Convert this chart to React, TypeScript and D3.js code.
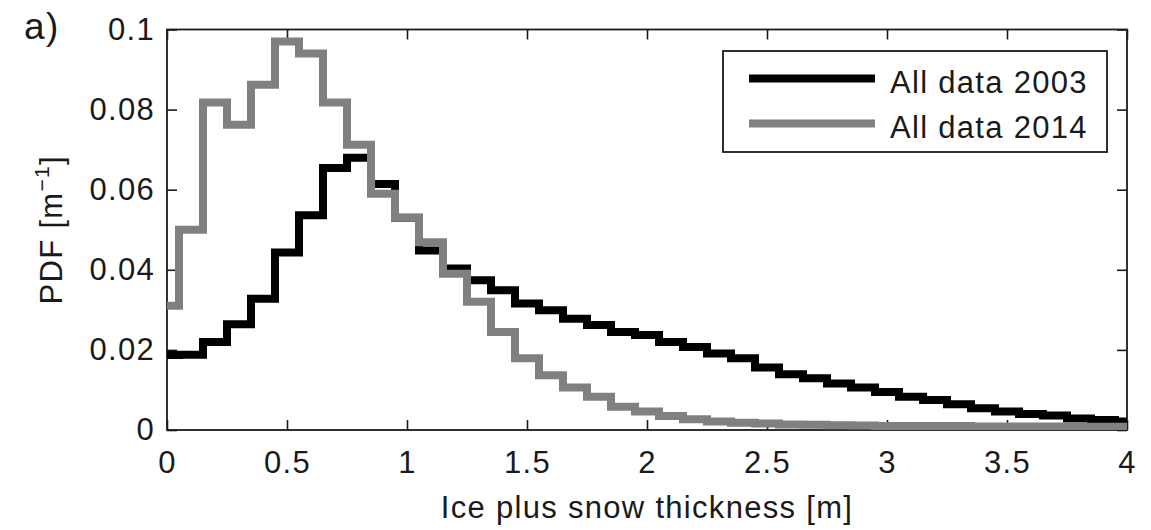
import { useEffect, useRef } from 'react';
import * as d3 from 'd3';

// bin centres of the thickness histogram [m]
const thickness = [
  0, 0.1, 0.2, 0.3, 0.4, 0.5, 0.6, 0.7, 0.8, 0.9,
  1.0, 1.1, 1.2, 1.3, 1.4, 1.5, 1.6, 1.7, 1.8, 1.9,
  2.0, 2.1, 2.2, 2.3, 2.4, 2.5, 2.6, 2.7, 2.8, 2.9,
  3.0, 3.1, 3.2, 3.3, 3.4, 3.5, 3.6, 3.7, 3.8, 3.9, 4.0,
];

const pdf2003 = [
  0.0187, 0.0188, 0.022, 0.0264, 0.0328, 0.0443, 0.0536, 0.0654, 0.068, 0.0614,
  0.053, 0.0448, 0.0403, 0.0374, 0.0349, 0.0316, 0.0299, 0.0278, 0.0262, 0.0245,
  0.0237, 0.022, 0.0207, 0.0191, 0.0179, 0.0156, 0.0139, 0.0129, 0.0116, 0.0106,
  0.0095, 0.0083, 0.0075, 0.0064, 0.0054, 0.0046, 0.004, 0.0036, 0.0029, 0.0025, 0.0021,
];

const pdf2014 = [
  0.031, 0.050, 0.0818, 0.0762, 0.0862, 0.097, 0.094, 0.0818, 0.0712, 0.059,
  0.053, 0.0469, 0.039, 0.032, 0.0245, 0.0179, 0.0137, 0.0106, 0.0083, 0.0058,
  0.0046, 0.0035, 0.0027, 0.0021, 0.0018, 0.0016, 0.0014, 0.0013, 0.0012, 0.0011,
  0.001, 0.001, 0.001, 0.001, 0.0009, 0.0009, 0.0009, 0.0009, 0.0008, 0.0008, 0.0008,
];

const seriesNames = ['All data 2003', 'All data 2014'];
const seriesColors = ['#000000', '#808080'];
const xTicks = [0, 0.5, 1, 1.5, 2, 2.5, 3, 3.5, 4];
const yTicks = [0, 0.02, 0.04, 0.06, 0.08, 0.1];

const W = 1151;
const H = 530;
const FONT = '"Liberation Sans", Arial, Helvetica, sans-serif';
const TEXT = '#1a1a1a';

const App = () => {
  const svgRef = useRef<SVGSVGElement | null>(null);

  useEffect(() => {
    document.body.style.margin = '0';
    const svg = d3.select(svgRef.current);
    svg.selectAll('*').remove();

    const margin = { top: 29.5, right: 24, bottom: 100, left: 167 };
    const width = W - margin.left - margin.right;
    const height = H - margin.top - margin.bottom;

    const x = d3.scaleLinear().domain([0, 4]).range([0, width]);
    const y = d3.scaleLinear().domain([0, 0.1]).range([height, 0]);

    svg.append('rect').attr('width', W).attr('height', H).attr('fill', '#fff');

    svg.append('defs').append('clipPath').attr('id', 'plot-clip')
      .append('rect').attr('width', width).attr('height', height);

    const g = svg.append('g').attr('transform', `translate(${margin.left},${margin.top})`);

    const styleAxis = (sel: any) => {
      sel.select('.domain').remove();
      sel.selectAll('line').attr('stroke', TEXT).attr('stroke-width', 1.6);
      sel.selectAll('text')
        .attr('fill', TEXT)
        .style('font-family', FONT)
        .style('font-size', '31px')
        .style('letter-spacing', '1.3px');
    };

    g.append('g').attr('transform', `translate(0,${height})`)
      .call(d3.axisBottom(x).tickValues(xTicks).tickSize(-10).tickPadding(21).tickFormat((d) => String(d)))
      .call(styleAxis);
    g.append('g')
      .call(d3.axisTop(x).tickValues(xTicks).tickSize(-10).tickFormat(() => ''))
      .call(styleAxis);
    g.append('g')
      .call(d3.axisLeft(y).tickValues(yTicks).tickSize(-10).tickPadding(12).tickFormat((d) => String(d)))
      .call(styleAxis);
    g.append('g').attr('transform', `translate(${width},0)`)
      .call(d3.axisRight(y).tickValues(yTicks).tickSize(-10).tickFormat(() => ''))
      .call(styleAxis);

    g.append('rect')
      .attr('width', width).attr('height', height)
      .attr('fill', 'none').attr('stroke', TEXT).attr('stroke-width', 1.8);

    const line = d3.line<number>()
      .x((_, i) => x(thickness[i]))
      .y((d) => y(d))
      .curve(d3.curveStep);

    [pdf2003, pdf2014].forEach((series, i) => {
      g.append('path')
        .attr('clip-path', 'url(#plot-clip)')
        .attr('d', line(series))
        .attr('fill', 'none')
        .attr('stroke', seriesColors[i])
        .attr('stroke-width', 8)
        .attr('stroke-linejoin', 'miter');
    });

    // legend
    const lg = svg.append('g').attr('transform', 'translate(723,51)');
    lg.append('rect')
      .attr('width', 384).attr('height', 101)
      .attr('fill', '#fff').attr('stroke', TEXT).attr('stroke-width', 1.8);
    seriesNames.forEach((name, i) => {
      const row = lg.append('g').attr('transform', `translate(0,${27.5 + i * 45})`);
      row.append('line')
        .attr('x1', 26).attr('x2', 152)
        .attr('stroke', seriesColors[i]).attr('stroke-width', 8);
      row.append('text')
        .attr('x', 167).attr('y', 14.5)
        .attr('fill', TEXT)
        .style('font-family', FONT).style('font-size', '31px').style('letter-spacing', '1.3px')
        .text(name);
    });

    // axis labels
    svg.append('text')
      .attr('x', margin.left + width / 2).attr('y', 518)
      .attr('text-anchor', 'middle').attr('fill', TEXT)
      .style('font-family', FONT).style('font-size', '31px').style('letter-spacing', '1.3px')
      .text('Ice plus snow thickness [m]');

    const yl = svg.append('text')
      .attr('transform', `translate(62,${margin.top + height / 2}) rotate(-90)`)
      .attr('text-anchor', 'middle').attr('fill', TEXT)
      .style('font-family', FONT).style('font-size', '31px').style('letter-spacing', '1.3px');
    yl.append('tspan').text('PDF [m');
    yl.append('tspan').attr('dy', -13).style('font-size', '21px').text('\u22121');
    yl.append('tspan').attr('dy', 13).text(']');

    svg.append('text')
      .attr('x', 24).attr('y', 39).attr('fill', TEXT)
      .style('font-family', FONT).style('font-size', '37px').style('letter-spacing', '1.5px')
      .text('a)');
  }, []);

  return (
    <div style={{ width: W, height: H }}>
      <svg ref={svgRef} width={W} height={H} style={{ display: 'block' }}></svg>
    </div>
  );
};

export default App;
